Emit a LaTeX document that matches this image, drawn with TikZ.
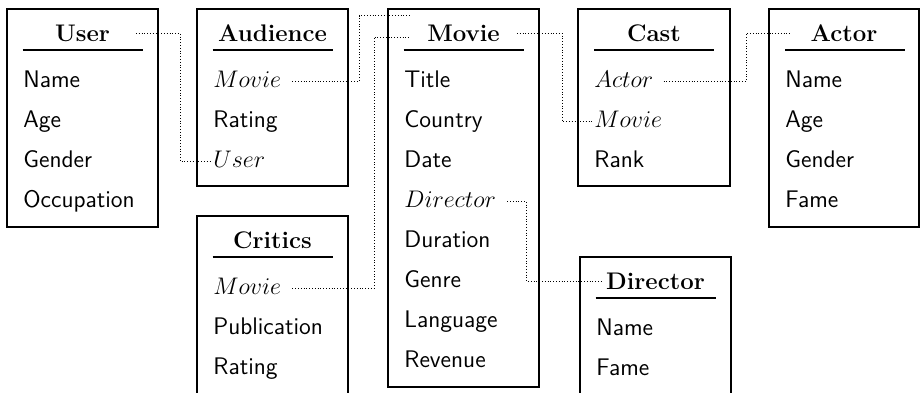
\documentclass[tikz,border=0pt,12pt]{standalone}
\usepackage{amsmath,amssymb}
\usepackage{tikz}
\begin{document}
\begin{tikzpicture}[x=0.5pt,y=-0.5pt,
    tablebox/.style={line width=0.6pt},
    tabtitle/.style={font=\bfseries,minimum width=53pt,minimum height=17pt,inner sep=0pt,text height=8.5pt,text depth=0pt},
    attr/.style={font=\sffamily,anchor=west,inner sep=0pt,text height=8.5pt,text depth=2.5pt},
    link/.style={densely dotted,line width=0.4pt}]
    \useasboundingbox (0,0) rectangle (920,392);
    \begin{scope}[shift={(7,9)}]
      \draw[tablebox] (0,0) rectangle (151,218);
      \node[tabtitle] (user-title) at (75.5,24) {User};
      \draw[tablebox] (15.5,41) to (135.5,41);
      \node[attr] (user-name) at (16,72) {Name};
      \node[attr] (user-age) at (16,112) {Age};
      \node[attr] (user-gender) at (16,152) {Gender};
      \node[attr] (user-occupation) at (16,192) {Occupation};
    \end{scope}
    \begin{scope}[shift={(197,9)}]
      \draw[tablebox] (0,0) rectangle (151,177);
      \node[tabtitle] (aud-title) at (75.5,24) {Audience};
      \draw[tablebox] (15.5,41) to (135.5,41);
      \node[attr] (aud-movie) at (16,72) {$Movie$};
      \node[attr] (aud-rating) at (16,112) {Rating};
      \node[attr] (aud-user) at (16,152) {$User$};
    \end{scope}
    \begin{scope}[shift={(197,216)}]
      \draw[tablebox] (0,0) rectangle (151,180);
      \node[tabtitle] (crit-title) at (75.5,24) {Critics};
      \draw[tablebox] (15.5,41) to (135.5,41);
      \node[attr] (crit-movie) at (16,72) {$Movie$};
      \node[attr] (crit-publication) at (16,112) {Publication};
      \node[attr] (crit-rating) at (16,152) {Rating};
    \end{scope}
    \begin{scope}[shift={(388,9)}]
      \draw[tablebox] (0,0) rectangle (151,378);
      \node[tabtitle] (movie-title) at (75.5,24) {Movie};
      \draw[tablebox] (15.5,41) to (135.5,41);
      \node[attr] (movie-name) at (16,72) {Title};
      \node[attr] (movie-country) at (16,112) {Country};
      \node[attr] (movie-date) at (16,152) {Date};
      \node[attr] (movie-director) at (16,192) {$Director$};
      \node[attr] (movie-duration) at (16,232) {Duration};
      \node[attr] (movie-genre) at (16,272) {Genre};
      \node[attr] (movie-language) at (16,312) {Language};
      \node[attr] (movie-revenue) at (16,352) {Revenue};
    \end{scope}
    \begin{scope}[shift={(578,9)}]
      \draw[tablebox] (0,0) rectangle (152,177);
      \node[tabtitle] (cast-title) at (76,24) {Cast};
      \draw[tablebox] (16,41) to (136,41);
      \node[attr] (cast-actor) at (16,72) {$Actor$};
      \node[attr] (cast-movie) at (16,112) {$Movie$};
      \node[attr] (cast-rank) at (16,152) {Rank};
    \end{scope}
    \begin{scope}[shift={(580,257)}]
      \draw[tablebox] (0,0) rectangle (151,139);
      \node[tabtitle] (director-title) at (75.5,24) {Director};
      \draw[tablebox] (15.5,41) to (135.5,41);
      \node[attr] (director-name) at (16,72) {Name};
      \node[attr] (director-fame) at (16,112) {Fame};
    \end{scope}
    \begin{scope}[shift={(769,9)}]
      \draw[tablebox] (0,0) rectangle (150,218);
      \node[tabtitle] (actor-title) at (75,24) {Actor};
      \draw[tablebox] (16,41) to (136,41);
      \node[attr] (actor-name) at (16,72) {Name};
      \node[attr] (actor-age) at (16,112) {Age};
      \node[attr] (actor-gender) at (16,152) {Gender};
      \node[attr] (actor-fame) at (16,192) {Fame};
    \end{scope}
      \draw[link,shorten >=1.5pt] (user-title.east) to ++(44,0) |- (aud-user.west);
      \draw[link,shorten <=5.5pt] (aud-movie.east) -| ([xshift=-25.5pt]movie-title.north west) to (movie-title.north west);
      \draw[link,shorten <=5.5pt] (crit-movie.east) -| ([xshift=-18pt,yshift=-2pt]movie-title.west) to ([yshift=-2pt]movie-title.west);
      \draw[link,shorten >=0.5pt] (movie-title.east) to ++(45,0) |- (cast-movie.west);
      \draw[link,shorten <=5pt] (cast-actor.east) -| ([xshift=-22pt]actor-title.west) to (actor-title.west);
      \draw[link,shorten <=5.5pt] (movie-director.east) -| ([xshift=-38pt]director-title.west) to (director-title.west);
  \end{tikzpicture}
\end{document}
